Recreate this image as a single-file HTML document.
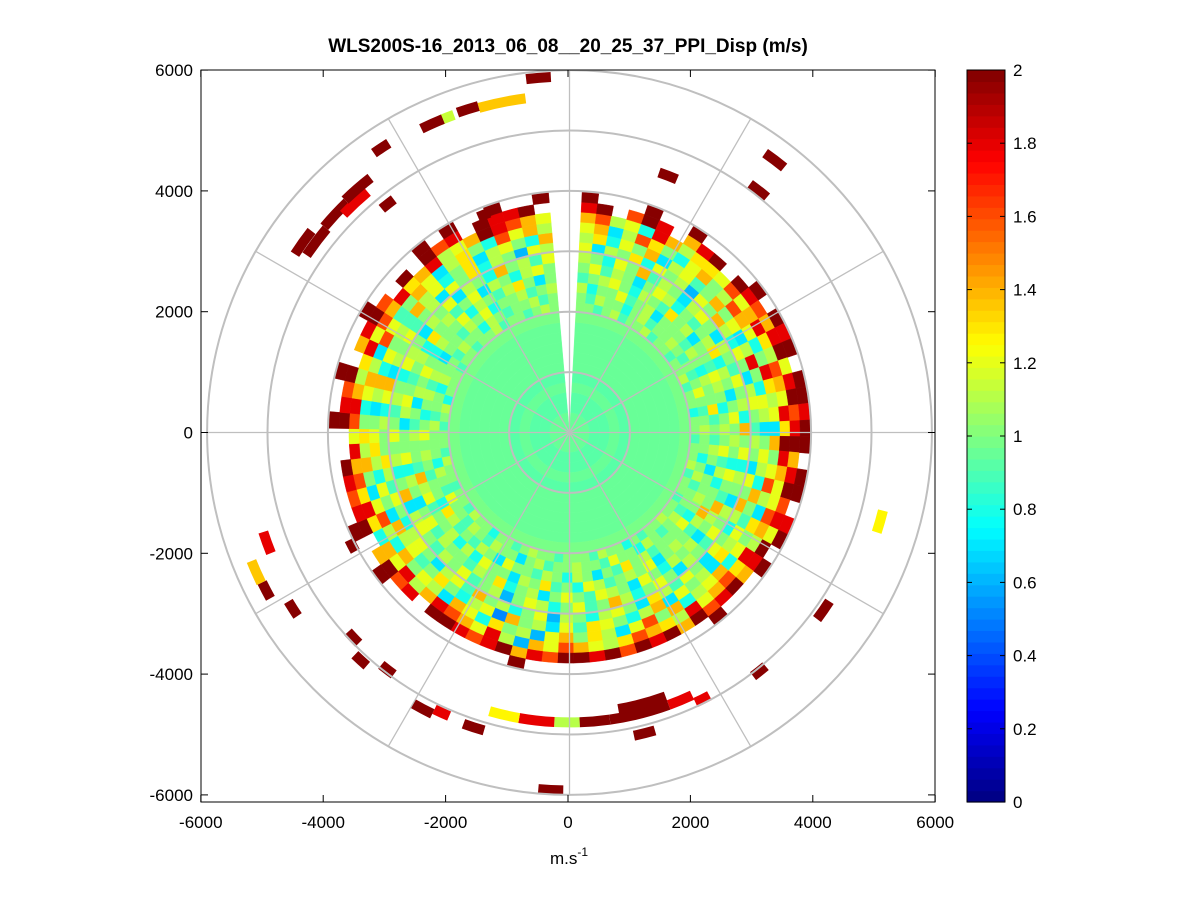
<!DOCTYPE html>
<html><head><meta charset="utf-8"><style>
body{margin:0;background:#fff;}
svg{display:block;font-family:"Liberation Sans",Arial,sans-serif;}
</style></head><body>
<svg id="chart" width="1201" height="901" viewBox="0 0 1201 901">
<rect x="0" y="0" width="1201" height="901" fill="#fff"/>
<text x="568" y="52" text-anchor="middle" font-size="19" font-weight="bold" fill="#000">WLS200S-16_2013_06_08__20_25_37_PPI_Disp (m/s)</text>
<defs><clipPath id="axclip"><rect x="201" y="70" width="734" height="732"/></clipPath></defs>
<g id="data" clip-path="url(#axclip)"></g>
<g id="grid" clip-path="url(#axclip)"></g>
<rect x="201" y="70" width="734" height="732" fill="none" stroke="#000" stroke-width="1"/>
<g id="axes"></g>
<text x="569" y="864" text-anchor="middle" font-size="17">m.s<tspan dy="-8" font-size="12">-1</tspan></text>
<g id="cbar"></g>
</svg>
<script>
// ---- data ----
const gateLength = 166; // m per range gate
const azBinStart = 3;   // deg
const azBinWidth = 4;   // deg
const innerGateValues = [0.95,0.94,0.93,0.93,0.94,0.93,0.94,0.95,0.94,0.95,0.96,0.97];
const outerGateRows = [
"AA9AB9AAB9A A9AAB9AA8AA 9AAB9AA9AAB AA9A8AAB9AA A9AABA9AA8A AB9AA9AAB9A A9AB8AAA9AA 9AAB9AA9ABA",
"A9BAA8AB9AA BA9A9ACA9AB AA8AB9AA9BA 9AB8AAC9AAB AA9BA7AAB9A B9AAC9AB8AA AB9AA8BAA9B AA8BA9AAB9A",
"B8AAC9AB7AA A9BA8BAAD9A 9BA7AABA8CA AA9BAD9A7AB 8AB9AAC7AB9 A9BD8AA9ABA CA8AB9BA7AA 9BAC8AAB9AB",
"9ABCA8BA9DA B7AA9CBA8AB AC9B8AAEB9A BA7CABA9BC8 A9DAB7AAC8B 8BAA9CBE9AA B9A7BACA8BA AC8BA9BDA7A",
"AC9BA7ACB8A 9ABD8BA7ACA BA8CA9EBA7B AB8AC7ABC9A CA7BA8DAB9A AB9CA7AB8CA A7BCA9AB8DA B9AC7BA8BCA",
"BA8CAE9BA7B CA7BA9CAB8E AC8BA7BAC9A B7ACA8BEA9C A8BCA6BA9CA B9ACB7EA8BA CA9BA8CBA7B AC7BA8EAB9C",
"C7BAD8CAB6C AEB8CA7BCA9 BA7CAEB8AC7 AC9BD7ACB8A B6CA8BAE9CB 7ACB8AC9BDA AB8CE7BAC9A B7CAD8BA6CB",
"BD8CAE7BC9A EAC7BIA8CB7 ACB8EA9CBD7 BAC7EB8ACD9 C7BAE5CB8AD A9CBE7AC8BD CA7BE8CAB9E BC8AD7BCA8E",
"CE7BGDA8CEA BGEC8AIDBC7 EACGB7DAC8E CB8EAGC7BDA EC6BAD8CE7B CAE8BGC7AEB DA8CEB7GC9A EC7BDA8GCEB",
"EGBC8IEBDDC GCEIDBGECID KIECCGEBIDG ECIBDEGDBCE GCE6BICEGIE BICE8DIDGEI CGIEBDICGEI DEIBCEKIGEC",
"IK.GKI.EIK. KIGEIKCIKGI KEIKGICKIEK IGKEKIKGKIK KGIEKIGIKK. IGKE.KIGIK. .KIGK.EIKG. K.KGI.KIIK.",
"K...K..K... .K.KIK.KKIK K.KK.IK.K.. .K......... ...K....... ..K..K..... .K..K...K.. ..K.K..K..K"
];
const codeChars = "0123456789ABCDEFGHIJK";
const scatRange = [5894,5580,5612,5596,5596,5646,5250,5420,5300,5200,5350,4834,3874,4553,5646,5083,5348,5132,5050,4934,5132,4800,4800,4650,4800,4800,4800,4800,5132,5100,5182,5927,5116,4950,4934,5430,5662,5679,5331,4056];
const scatAz0   = [-7,-15.6,-19.3,-22.5,-26,-35,-56,-57,-50,-46,-44,-40,-23,19,35,36,104,123,140,152,164,155,160,160,172,178,183,190,196,203,206,181,221,216,225,236,241,244,248,241];
const scatAz1   = [-3,-7.5,-15.6,-20,-22,-32,-50,-52,-44,-40,-38,-37,-20,23,39,40,108,127,143,155,168,160,172,170,178,183,190,196,200,206,210,185,224,219,228,239,244,248,252,244];
const scatVal   = [2,1.35,2,1.15,2,2,2,2,2,1.8,2,2,2,2,2,2,1.25,2,2,1.8,2,1.8,2,2,2,1.1,1.8,1.25,2,1.8,2,2,2,2,2,2,2,1.35,1.8,2];
const cbarTicks = [0,0.2,0.4,0.6,0.8,1,1.2,1.4,1.6,1.8,2];
const xTicks = [-6000,-4000,-2000,0,2000,4000,6000];
const yTicks = [-6000,-4000,-2000,0,2000,4000,6000];

// ---- scales ----
const NS="http://www.w3.org/2000/svg";
const cx=569.5, cy=432.5, rs=0.0604;
const xPix = v => 568 + v*0.0612;
const yPix = v => 432.5 - v*0.0604;
function jet(v){
  let idx=Math.max(0,Math.min(63,Math.floor(v/2*64)));
  const x=(idx+0.5)/64;
  const c=t=>Math.round(255*Math.max(0,Math.min(1,t)));
  return `rgb(${c(Math.min(4*x-1.5,-4*x+4.5))},${c(Math.min(4*x-0.5,-4*x+3.5))},${c(Math.min(4*x+0.5,-4*x+2.5))})`;
}
function pt(r,a){const t=a*Math.PI/180;return [cx+r*rs*Math.sin(t), cy-r*rs*Math.cos(t)];}
function sector(r0,r1,a0,a1){
  const p1=pt(r0,a0),p2=pt(r1,a0),p3=pt(r1,a1),p4=pt(r0,a1);
  const R0=r0*rs,R1=r1*rs;
  const lg=(a1-a0)>180?1:0;
  return `M${p1[0]},${p1[1]}L${p2[0]},${p2[1]}A${R1},${R1} 0 ${lg} 1 ${p3[0]},${p3[1]}L${p4[0]},${p4[1]}A${R0},${R0} 0 ${lg} 0 ${p1[0]},${p1[1]}Z`;
}
function mk(tag,attrs,parent){const e=document.createElementNS(NS,tag);for(const k in attrs)e.setAttribute(k,attrs[k]);parent.appendChild(e);return e;}

const dataG=document.getElementById('data');
const nBins=88;
innerGateValues.forEach((v,g)=>{
  const el=mk('path',{d:sector(g*gateLength,(g+1)*gateLength,azBinStart,azBinStart+nBins*azBinWidth),fill:jet(v),stroke:jet(v),'stroke-width':0.4},dataG);
  
  
});
outerGateRows.forEach((row,k)=>{
  const s=row.replace(/ /g,'');
  const g=innerGateValues.length+k;
  for(let i=0;i<nBins;i++){
    const ch=s[i]||'.';
    const ci=codeChars.indexOf(ch);
    if(ci<0)continue;
    const v=ci*0.1;
    const a0=azBinStart+i*azBinWidth;
    const el=mk('path',{d:sector(g*gateLength,(g+1)*gateLength,a0,a0+azBinWidth),fill:jet(v),stroke:jet(v),'stroke-width':0.4},dataG);
    
    
  }
});
scatRange.forEach((r,i)=>{
  const el=mk('path',{d:sector(r-gateLength/2,r+gateLength/2,scatAz0[i],scatAz1[i]),fill:jet(scatVal[i])},dataG);
  
  
});

// grid
const gridG=document.getElementById('grid');
for(let k=1;k<=6;k++){
  const el=mk('circle',{cx:cx,cy:cy,r:k*1000*rs,fill:'none',stroke:'#bfbfbf','stroke-width':2},gridG);
  
  
}
for(let a=0;a<360;a+=30){
  const p=pt(6000,a);
  const el=mk('line',{x1:cx,y1:cy,x2:p[0],y2:p[1],stroke:'#bfbfbf','stroke-width':1.3},gridG);
  
  
}

// axes ticks
const axG=document.getElementById('axes');
xTicks.forEach(v=>{
  const x=xPix(v);
  mk('line',{x1:x,y1:802,x2:x,y2:795,stroke:'#000'},axG);
  mk('line',{x1:x,y1:70,x2:x,y2:77,stroke:'#000'},axG);
  const t=mk('text',{x:x,y:828,'text-anchor':'middle','font-size':17},axG);
  t.textContent=v;
  
  
});
yTicks.forEach(v=>{
  const y=yPix(v);
  mk('line',{x1:201,y1:y,x2:208,y2:y,stroke:'#000'},axG);
  mk('line',{x1:935,y1:y,x2:928,y2:y,stroke:'#000'},axG);
  const t=mk('text',{x:193,y:y+6,'text-anchor':'end','font-size':17},axG);
  t.textContent=v;
  
  
});

// colorbar
const cb=document.getElementById('cbar');
const cbX=967,cbW=38,cbTop=70,cbBot=802,cbH=cbBot-cbTop;
for(let i=0;i<64;i++){
  const y0=cbBot-(i+1)*cbH/64;
  const el=mk('rect',{x:cbX,y:y0,width:cbW,height:cbH/64+0.6,fill:jet((i+0.5)/64*2)},cb);
  
  
}
mk('rect',{x:cbX,y:cbTop,width:cbW,height:cbH,fill:'none',stroke:'#000'},cb);
cbarTicks.forEach(v=>{
  const y=cbBot-v/2*cbH;
  mk('line',{x1:cbX,y1:y,x2:cbX+5,y2:y,stroke:'#000'},cb);
  mk('line',{x1:cbX+cbW,y1:y,x2:cbX+cbW-5,y2:y,stroke:'#000'},cb);
  const t=mk('text',{x:1013,y:y+6,'font-size':17},cb);
  t.textContent=String(v);
  
  
});
</script>
</body></html>
